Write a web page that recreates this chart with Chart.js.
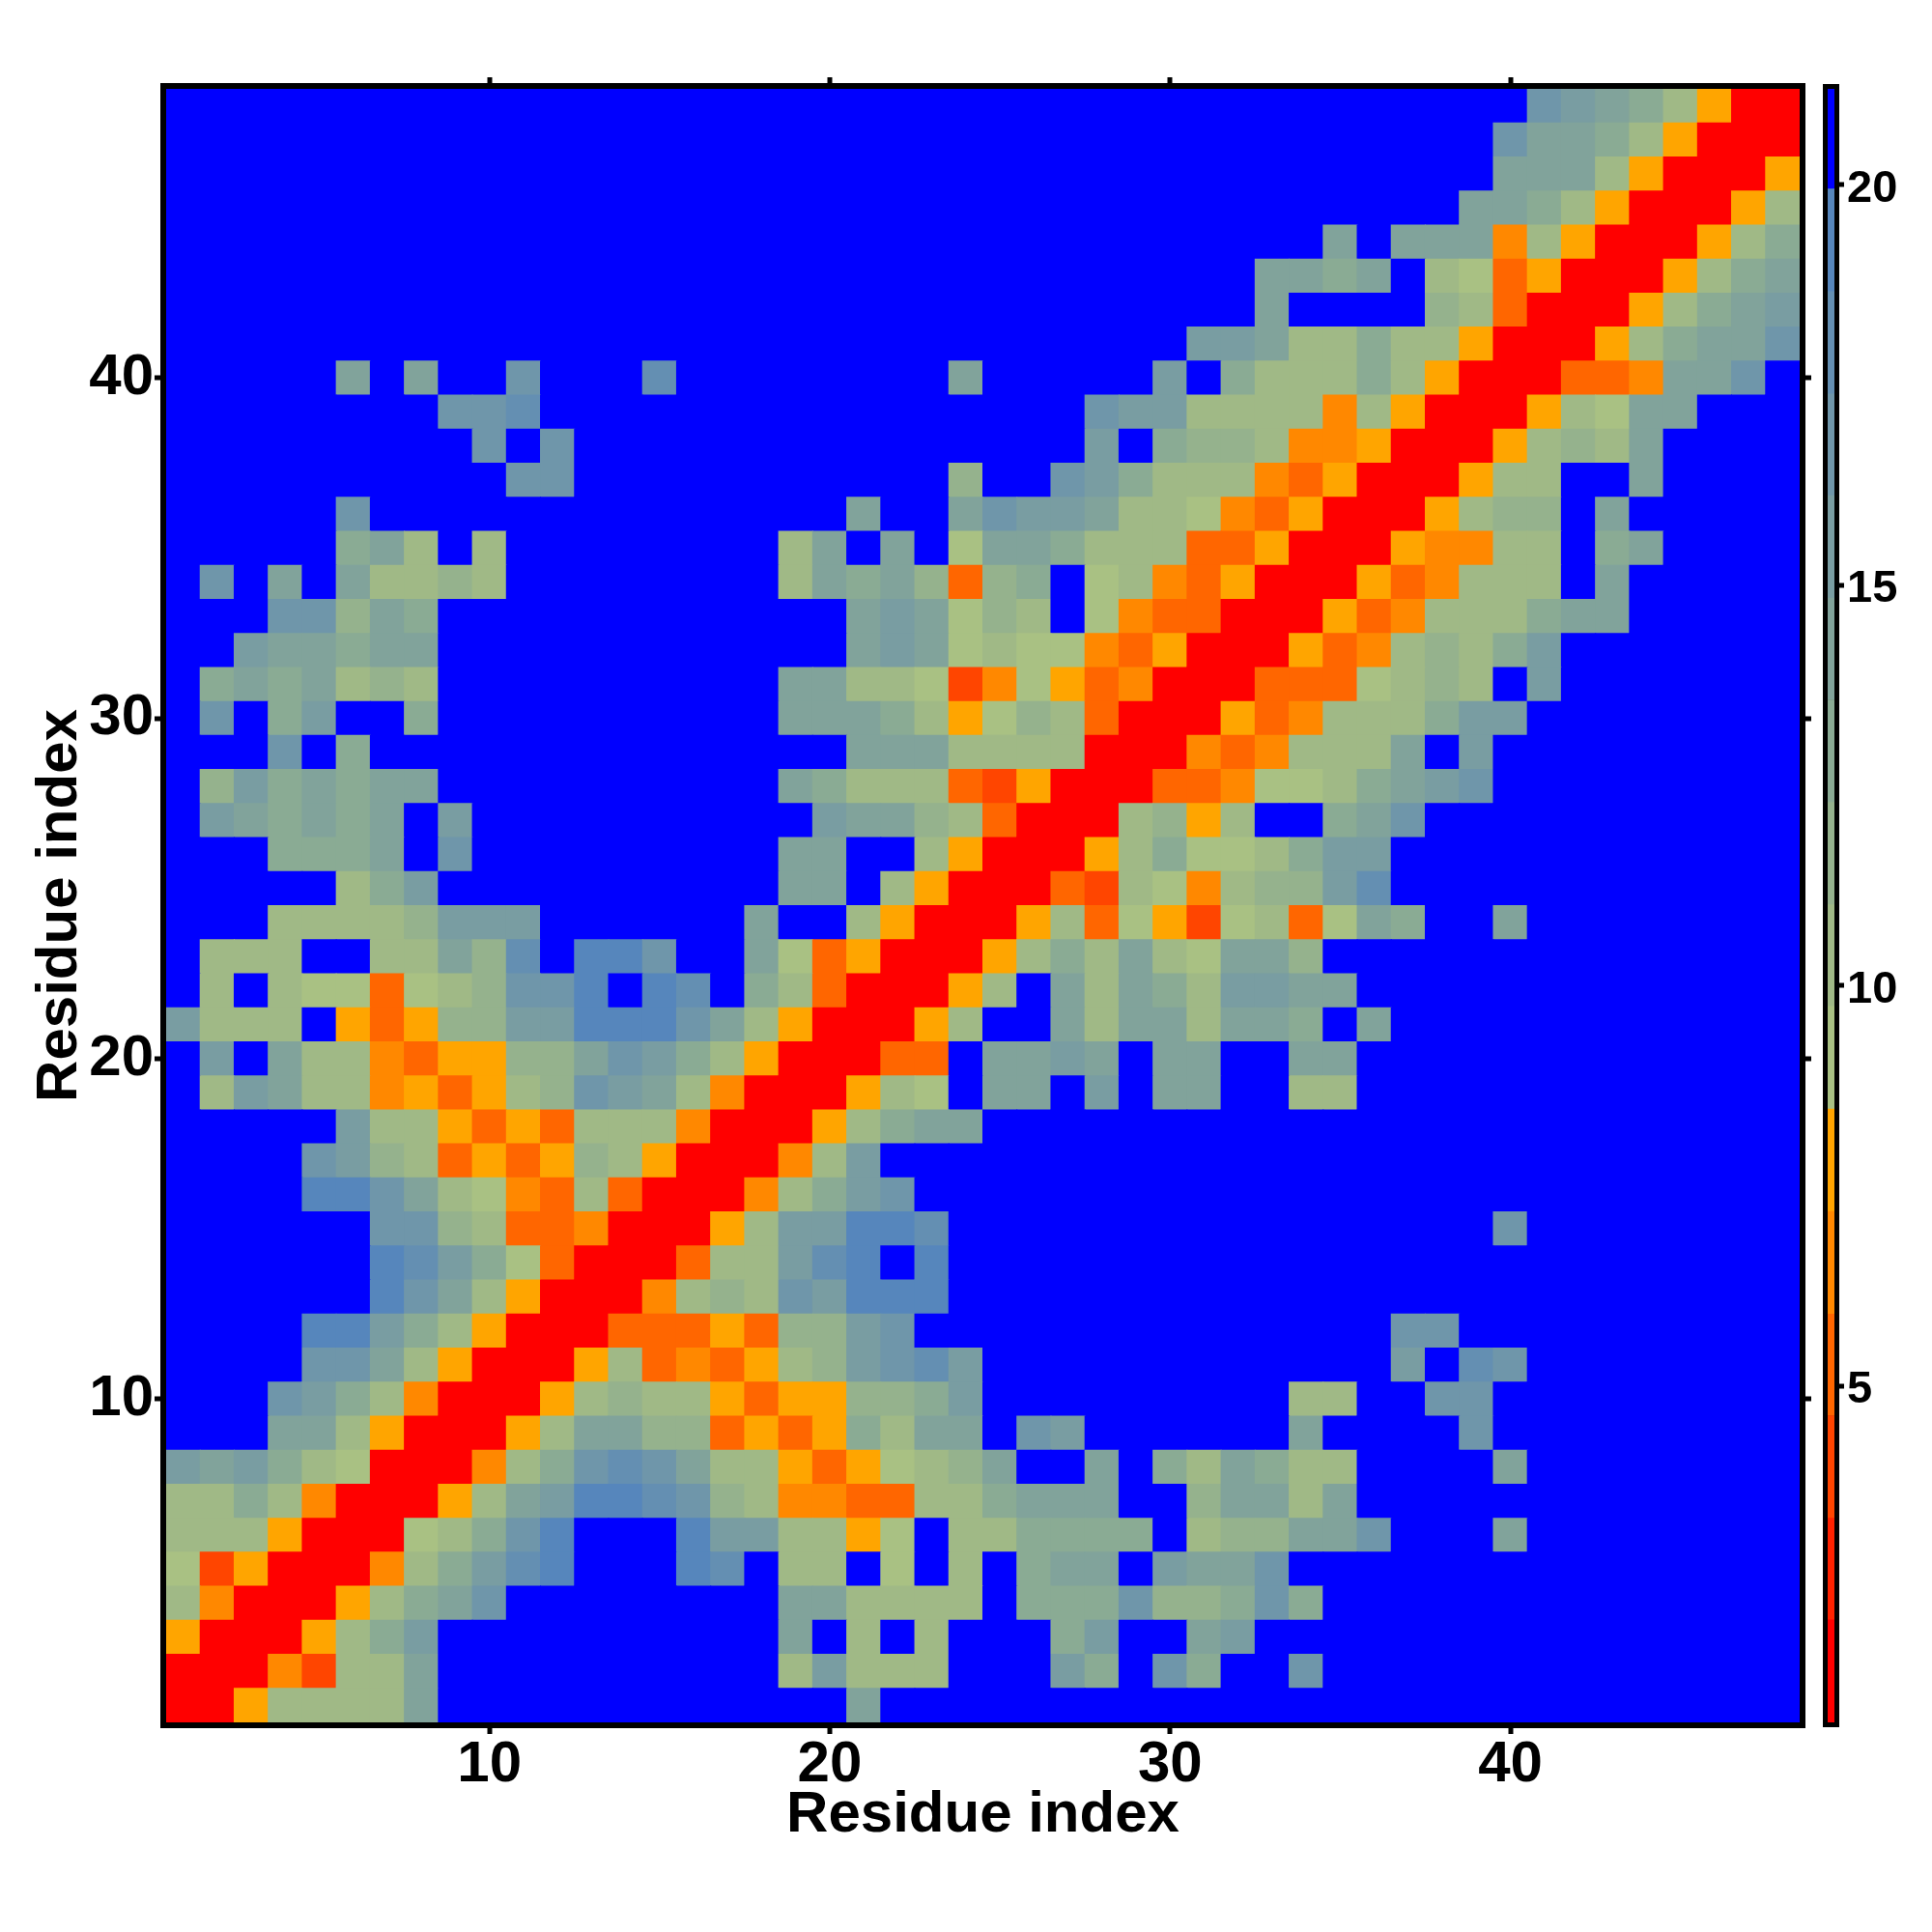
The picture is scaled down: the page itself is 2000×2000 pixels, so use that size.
<!DOCTYPE html>
<html>
<head>
<meta charset="utf-8">
<title>Residue contact map</title>
<script src="https://cdn.jsdelivr.net/npm/chart.js@4"></script>
<style>
    html, body { margin: 0; padding: 0; background: #ffffff; }
    #wrap { position: relative; width: 2000px; height: 2000px; }
    canvas { position: absolute; left: 0; top: 0; }
</style>
</head>
<body>
<div id="wrap">
    <canvas id="mapChart" width="2000" height="2000"></canvas>
    <canvas id="barChart" width="2000" height="2000"></canvas>
</div>
<script>
// residue distances, one list per residue from 1 (bottom row) to 48 (top row)
const distances = [
    [1,1,8,10,10,10,10,14,21,21, 21,21,21,21,21,21,21,21,21,21, 14,21,21,21,21,21,21,21,21,21, 21,21,21,21,21,21,21,21,21,21, 21,21,21,21,21,21,21,21],
    [1,1,1,7,4,10,10,14,21,21, 21,21,21,21,21,21,21,21,10,15, 10,10,10,21,21,21,15,13,21,17, 13,21,21,17,21,21,21,21,21,21, 21,21,21,21,21,21,21,21],
    [8,1,1,1,8,10,13,15,21,21, 21,21,21,21,21,21,21,21,14,21, 10,21,10,21,21,21,13,15,21,21, 14,15,21,21,21,21,21,21,21,21, 21,21,21,21,21,21,21,21],
    [10,7,1,1,1,8,10,13,14,17, 21,21,21,21,21,21,21,21,14,14, 10,10,10,10,21,13,13,13,17,12, 12,13,17,13,21,21,21,21,21,21, 21,21,21,21,21,21,21,21],
    [9,4,8,1,1,1,7,10,13,15, 18,19,21,21,21,19,18,21,10,10, 21,9,21,10,21,13,14,14,21,15, 14,14,17,21,21,21,21,21,21,21, 21,21,21,21,21,21,21,21],
    [10,10,10,8,1,1,1,9,10,13, 17,19,21,21,21,19,15,15,10,10, 8,9,21,10,10,13,13,13,13,21, 10,12,12,14,14,17,21,21,21,14, 21,21,21,21,21,21,21,21],
    [10,10,13,10,7,1,1,1,8,10, 14,15,19,19,18,17,12,10,7,7, 5,5,10,10,13,14,14,14,21,21, 12,14,14,10,14,21,21,21,21,21, 21,21,21,21,21,21,21,21],
    [15,14,15,13,10,9,1,1,1,7, 10,13,17,18,17,14,10,10,8,5, 8,9,10,12,14,21,21,14,21,13, 10,14,13,10,10,21,21,21,21,14, 21,21,21,21,21,21,21,21],
    [21,21,21,14,14,10,8,1,1,1, 8,10,14,14,12,12,5,8,5,8, 13,10,14,14,21,17,15,21,21,21, 21,21,21,14,21,21,21,21,17,21, 21,21,21,21,21,21,21,21],
    [21,21,21,17,15,13,10,7,1,1, 1,8,10,12,10,10,8,5,8,8, 12,12,13,15,21,21,21,21,21,21, 21,21,21,10,10,21,21,17,17,21, 21,21,21,21,21,21,21,21],
    [21,21,21,21,17,17,14,10,8,1, 1,1,8,10,5,7,5,8,10,12, 15,17,18,15,21,21,21,21,21,21, 21,21,21,21,21,21,15,21,18,17, 21,21,21,21,21,21,21,21],
    [21,21,21,21,19,19,15,13,10,8, 1,1,1,5,5,5,8,5,12,12, 15,17,21,21,21,21,21,21,21,21, 21,21,21,21,21,21,17,17,21,21, 21,21,21,21,21,21,21,21],
    [21,21,21,21,21,21,19,17,14,10, 8,1,1,1,7,10,12,10,17,15, 19,19,19,21,21,21,21,21,21,21, 21,21,21,21,21,21,21,21,21,21, 21,21,21,21,21,21,21,21],
    [21,21,21,21,21,21,19,18,15,13, 9,5,1,1,1,5,10,10,15,18, 19,21,19,21,21,21,21,21,21,21, 21,21,21,21,21,21,21,21,21,21, 21,21,21,21,21,21,21,21],
    [21,21,21,21,21,21,17,17,12,10, 5,5,7,1,1,1,8,10,15,15, 19,19,18,21,21,21,21,21,21,21, 21,21,21,21,21,21,21,21,21,17, 21,21,21,21,21,21,21,21],
    [21,21,21,21,19,19,17,14,10,9, 7,5,10,5,1,1,1,7,10,13, 15,17,21,21,21,21,21,21,21,21, 21,21,21,21,21,21,21,21,21,21, 21,21,21,21,21,21,21,21],
    [21,21,21,21,17,15,12,10,5,8, 5,8,12,10,8,1,1,1,7,10, 15,21,21,21,21,21,21,21,21,21, 21,21,21,21,21,21,21,21,21,21, 21,21,21,21,21,21,21,21],
    [21,21,21,21,21,15,10,10,8,5, 8,5,10,10,10,7,1,1,1,8, 10,13,14,14,21,21,21,21,21,21, 21,21,21,21,21,21,21,21,21,21, 21,21,21,21,21,21,21,21],
    [21,10,15,14,10,10,7,8,5,8, 10,12,17,15,14,10,7,1,1,1, 8,10,9,21,14,14,21,15,21,14, 14,21,21,10,10,21,21,21,21,21, 21,21,21,21,21,21,21,21],
    [21,15,21,14,10,10,7,5,8,8, 12,12,14,17,15,13,10,8,1,1, 1,5,5,21,14,14,15,14,21,14, 14,21,21,14,14,21,21,21,21,21, 21,21,21,21,21,21,21,21],
    [15,10,10,10,21,8,5,8,12,12, 15,15,19,19,19,17,14,10,8,1, 1,1,8,10,21,21,14,10,14,14, 10,14,14,13,21,14,21,21,21,21, 21,21,21,21,21,21,21,21],
    [21,10,21,10,9,9,5,9,10,12, 17,17,19,21,19,18,21,13,10,5, 1,1,1,8,10,21,14,10,14,13, 10,15,15,14,14,21,21,21,21,21, 21,21,21,21,21,21,21,21],
    [21,10,10,10,21,21,10,10,14,12, 18,21,19,19,17,21,21,14,9,5, 8,1,1,1,8,10,13,10,14,10, 9,14,14,12,21,21,21,21,21,21, 21,21,21,21,21,21,21,21],
    [21,21,21,10,10,10,10,12,15,15, 15,21,21,21,21,21,21,14,21,21, 10,8,1,1,1,8,10,5,9,8, 4,9,10,5,9,14,13,21,21,14, 21,21,21,21,21,21,21,21],
    [21,21,21,21,21,10,13,15,21,21, 21,21,21,21,21,21,21,21,14,14, 21,10,8,1,1,1,5,4,10,9, 7,10,12,12,15,18,21,21,21,21, 21,21,21,21,21,21,21,21],
    [21,21,21,13,13,13,14,21,17,21, 21,21,21,21,21,21,21,21,14,14, 21,21,10,8,1,1,1,8,10,13, 9,9,10,13,15,15,21,21,21,21, 21,21,21,21,21,21,21,21],
    [21,15,14,13,14,13,14,21,15,21, 21,21,21,21,21,21,21,21,21,15, 14,14,12,10,5,1,1,1,10,12, 8,10,21,21,13,14,17,21,21,21, 21,21,21,21,21,21,21,21],
    [21,12,15,13,14,13,14,14,21,21, 21,21,21,21,21,21,21,21,14,13, 10,10,10,5,4,8,1,1,1,5, 5,7,9,9,10,13,14,15,17,21, 21,21,21,21,21,21,21,21],
    [21,21,21,17,21,13,21,21,21,21, 21,21,21,21,21,21,21,21,21,21, 14,14,14,10,10,10,10,1,1,1, 7,5,7,10,10,10,14,21,15,21, 21,21,21,21,21,21,21,21],
    [21,17,21,13,15,21,21,13,21,21, 21,21,21,21,21,21,21,21,14,14, 14,13,10,8,9,12,10,5,1,1, 1,8,5,7,10,10,10,13,15,15, 21,21,21,21,21,21,21,21],
    [21,13,14,13,14,10,12,10,21,21, 21,21,21,21,21,21,21,21,14,14, 10,10,9,4,7,9,8,5,7,1, 1,1,5,5,5,9,10,12,10,21, 15,21,21,21,21,21,21,21],
    [21,21,15,14,14,13,14,14,21,21, 21,21,21,21,21,21,21,21,21,21, 14,15,14,9,10,9,9,7,5,8, 1,1,1,8,5,7,10,12,10,13, 15,21,21,21,21,21,21,21],
    [21,21,21,17,17,12,14,13,21,21, 21,21,21,21,21,21,21,21,21,21, 14,15,14,9,12,10,21,9,7,5, 5,1,1,1,8,5,7,10,10,10, 13,14,14,21,21,21,21,21],
    [21,17,21,14,21,14,10,10,12,10, 21,21,21,21,21,21,21,21,10,14, 13,14,12,5,12,13,21,9,10,7, 5,8,1,1,1,8,5,7,10,10, 10,21,14,21,21,21,21,21],
    [21,21,21,21,21,13,14,10,21,10, 21,21,21,21,21,21,21,21,10,14, 21,14,21,9,14,14,13,10,10,10, 5,5,8,1,1,1,8,7,7,10, 10,21,13,14,21,21,21,21],
    [21,21,21,21,21,17,21,21,21,21, 21,21,21,21,21,21,21,21,21,21, 14,21,21,14,17,15,15,14,10,10, 9,7,5,8,1,1,1,8,10,12, 12,21,14,21,21,21,21,21],
    [21,21,21,21,21,21,21,21,21,21, 17,17,21,21,21,21,21,21,21,21, 21,21,21,12,21,21,17,15,13,10, 10,10,7,5,8,1,1,1,8,10, 10,21,21,14,21,21,21,21],
    [21,21,21,21,21,21,21,21,21,17, 21,17,21,21,21,21,21,21,21,21, 21,21,21,21,21,21,21,15,21,13, 12,12,10,7,7,8,1,1,1,8, 10,12,10,14,21,21,21,21],
    [21,21,21,21,21,21,21,21,17,17, 18,21,21,21,21,21,21,21,21,21, 21,21,21,21,21,21,21,17,15,15, 10,10,10,10,7,10,8,1,1,1, 8,10,9,14,14,21,21,21],
    [21,21,21,21,21,14,21,14,21,21, 17,21,21,21,18,21,21,21,21,21, 21,21,21,14,21,21,21,21,21,15, 21,13,10,10,10,13,10,8,1,1, 1,5,5,7,14,14,17,21],
    [21,21,21,21,21,21,21,21,21,21, 21,21,21,21,21,21,21,21,21,21, 21,21,21,21,21,21,21,21,21,21, 15,15,14,10,10,13,10,10,8,1, 1,1,8,10,13,14,14,17],
    [21,21,21,21,21,21,21,21,21,21, 21,21,21,21,21,21,21,21,21,21, 21,21,21,21,21,21,21,21,21,21, 21,21,14,21,21,21,21,12,10,5, 1,1,1,8,10,13,14,15],
    [21,21,21,21,21,21,21,21,21,21, 21,21,21,21,21,21,21,21,21,21, 21,21,21,21,21,21,21,21,21,21, 21,21,14,14,13,14,21,10,9,5, 8,1,1,1,8,10,13,14],
    [21,21,21,21,21,21,21,21,21,21, 21,21,21,21,21,21,21,21,21,21, 21,21,21,21,21,21,21,21,21,21, 21,21,21,21,14,21,14,14,14,7, 10,8,1,1,1,8,10,13],
    [21,21,21,21,21,21,21,21,21,21, 21,21,21,21,21,21,21,21,21,21, 21,21,21,21,21,21,21,21,21,21, 21,21,21,21,21,21,21,21,14,14, 13,10,8,1,1,1,8,10],
    [21,21,21,21,21,21,21,21,21,21, 21,21,21,21,21,21,21,21,21,21, 21,21,21,21,21,21,21,21,21,21, 21,21,21,21,21,21,21,21,21,14, 14,14,10,8,1,1,1,8],
    [21,21,21,21,21,21,21,21,21,21, 21,21,21,21,21,21,21,21,21,21, 21,21,21,21,21,21,21,21,21,21, 21,21,21,21,21,21,21,21,21,17, 14,14,13,10,8,1,1,1],
    [21,21,21,21,21,21,21,21,21,21, 21,21,21,21,21,21,21,21,21,21, 21,21,21,21,21,21,21,21,21,21, 21,21,21,21,21,21,21,21,21,21, 17,15,14,13,10,8,1,1]
];

// colour key: upper bound of each band and its colour
const bandEdges = [0.8, 2.08, 3.35, 4.63, 5.9, 7.18, 8.46, 9.74, 11.01, 12.29, 13.57, 14.84, 16.12, 17.39, 18.67, 19.95, 21.2];
const bandColors = ['#ff0000', '#ff2200', '#ff4500', '#ff6600', '#ff8800', '#ffa500',
    '#a9c183', '#a0b986', '#95b28d', '#8aab94', '#81a39b', '#799da2', '#6f96aa', '#648fb2', '#5686bc', '#0000ff'];

const residueTicks = [10, 20, 30, 40];
const keyTicks = [5, 10, 15, 20];
const axisTitle = 'Residue index';

function colorFor(value) {
    for (let b = 0; b < bandColors.length; b++) {
        if (value <= bandEdges[b + 1]) return bandColors[b];
    }
    return bandColors[bandColors.length - 1];
}

const fontFamily = '"Liberation Sans", Arial, sans-serif';

// shared look for the thick frame; half of the border hides under the cells
function frameAxis(extra) {
    return Object.assign({
        offset: false,
        border: { display: true, color: '#000000', width: 12, z: -1 },
        grid: {
            offset: false,
            drawOnChartArea: false,
            drawTicks: true,
            color: '#000000',
            lineWidth: 12,
            tickColor: '#000000',
            tickWidth: 5,
            tickLength: 12
        }
    }, extra);
}

function useTicks(values) {
    return function(scale) {
        scale.ticks = values.map(v => ({ value: v }));
    };
}

const mapDatasets = distances.map((row, r) => ({
    data: row.map((d, c) => ({ x: c + 1, y: [r + 0.5, r + 1.5] })),
    backgroundColor: row.map(colorFor),
    borderWidth: 0,
    inflateAmount: 0.5,
    grouped: false,
    barPercentage: 1,
    categoryPercentage: 1
}));

new Chart(document.getElementById('mapChart'), {
    type: 'bar',
    data: { datasets: mapDatasets },
    options: {
        responsive: false,
        animation: false,
        layout: { autoPadding: false },
        plugins: { legend: { display: false }, tooltip: { enabled: false } },
        scales: {
            x: frameAxis({
                type: 'linear',
                position: 'bottom',
                min: 0.5,
                max: 48.5,
                afterBuildTicks: useTicks(residueTicks),
                afterFit: scale => { scale.height = 217; },
                ticks: {
                    autoSkip: false,
                    maxRotation: 0,
                    padding: -4,
                    color: '#000000',
                    font: { family: fontFamily, size: 60, weight: 'bold' }
                },
                title: {
                    display: true,
                    text: axisTitle,
                    color: '#000000',
                    padding: { top: 0, bottom: 85 },
                    font: { family: fontFamily, size: 60, weight: 'bold' }
                }
            }),
            y: frameAxis({
                type: 'linear',
                position: 'left',
                min: 0.5,
                max: 48.5,
                afterBuildTicks: useTicks(residueTicks),
                afterFit: scale => { scale.width = 172; },
                ticks: {
                    autoSkip: false,
                    padding: 1,
                    color: '#000000',
                    font: { family: fontFamily, size: 60, weight: 'bold' }
                },
                title: {
                    display: true,
                    text: axisTitle,
                    color: '#000000',
                    padding: { top: 26, bottom: 0 },
                    font: { family: fontFamily, size: 60, weight: 'bold' }
                }
            }),
            xTop: frameAxis({
                type: 'linear',
                position: 'top',
                min: 0.5,
                max: 48.5,
                afterBuildTicks: useTicks(residueTicks),
                afterFit: scale => { scale.height = 92; },
                ticks: { display: false }
            }),
            yRight: frameAxis({
                type: 'linear',
                position: 'right',
                min: 0.5,
                max: 48.5,
                afterBuildTicks: useTicks(residueTicks),
                afterFit: scale => { scale.width = 137; },
                ticks: { display: false }
            })
        }
    }
});

// colour key drawn as its own little chart on top of the same page area
const keyDatasets = bandColors.map((color, b) => ({
    data: [[bandEdges[b], bandEdges[b + 1]]],
    backgroundColor: color,
    borderWidth: 0,
    grouped: false,
    barPercentage: 1,
    categoryPercentage: 1
}));

const noTicks = { drawTicks: false, drawOnChartArea: false, color: '#000000', lineWidth: 10 };

new Chart(document.getElementById('barChart'), {
    type: 'bar',
    data: { labels: [''], datasets: keyDatasets },
    options: {
        responsive: false,
        animation: false,
        layout: { autoPadding: false },
        plugins: { legend: { display: false }, tooltip: { enabled: false } },
        scales: {
            x: {
                position: 'bottom',
                border: { display: true, color: '#000000', width: 10, z: -1 },
                grid: noTicks,
                ticks: { display: false },
                afterFit: scale => { scale.height = 217; }
            },
            xTop: {
                type: 'category',
                labels: [''],
                position: 'top',
                border: { display: true, color: '#000000', width: 10, z: -1 },
                grid: noTicks,
                ticks: { display: false },
                afterFit: scale => { scale.height = 92; }
            },
            yLeft: {
                type: 'linear',
                position: 'left',
                min: bandEdges[0],
                max: bandEdges[bandEdges.length - 1],
                border: { display: true, color: '#000000', width: 10, z: -1 },
                grid: noTicks,
                ticks: { display: false },
                afterFit: scale => { scale.width = 1892; }
            },
            y: {
                type: 'linear',
                position: 'right',
                min: bandEdges[0],
                max: bandEdges[bandEdges.length - 1],
                afterBuildTicks: useTicks(keyTicks),
                afterFit: scale => { scale.width = 101; },
                border: { display: true, color: '#000000', width: 10, z: -1 },
                grid: {
                    drawOnChartArea: false,
                    color: '#000000',
                    lineWidth: 10,
                    tickColor: '#000000',
                    tickWidth: 5,
                    tickLength: 10
                },
                ticks: {
                    autoSkip: false,
                    padding: 3,
                    color: '#000000',
                    // empty first line with a small line height nudges the text below the tick
                    callback: value => ['', String(value)],
                    font: { family: fontFamily, size: 47, weight: 'bold', lineHeight: '9px' }
                }
            }
        }
    }
});
</script>
</body>
</html>
